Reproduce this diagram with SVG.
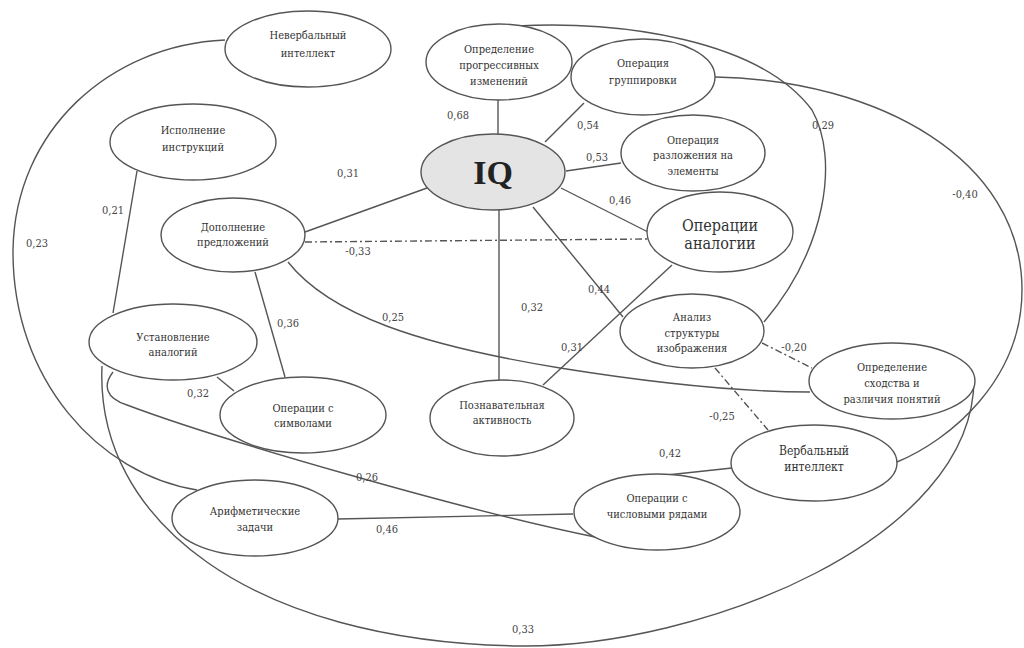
<svg xmlns="http://www.w3.org/2000/svg" width="1024" height="648" viewBox="0 0 1024 648">
<style>
.n ellipse{fill:#fff;stroke:#555;stroke-width:1.4}
text{font-family:"DejaVu Serif Condensed","DejaVu Serif","Liberation Serif",serif}
.n text{font-size:11px;fill:#333;text-anchor:middle}
.c path,.c line{fill:none;stroke:#555;stroke-width:1.4}
.c .d{stroke-dasharray:7,3,2,3}
.l text{font-size:11px;fill:#444;text-anchor:middle}
</style>
<rect width="1024" height="648" fill="#fff"/>
<g class="c" id="connectors">
<line x1="498" y1="100" x2="498" y2="135"/>
<line x1="545" y1="142" x2="584" y2="103"/>
<line x1="566" y1="171" x2="621" y2="163"/>
<line x1="561" y1="188" x2="648" y2="232"/>
<line x1="533" y1="207" x2="623" y2="317"/>
<line x1="499" y1="210" x2="499" y2="380"/>
<line x1="427" y1="188" x2="305" y2="232"/>
<line class="d" x1="305" y1="242" x2="647" y2="239"/>
<line x1="672" y1="265" x2="543" y2="385"/>
<line x1="255" y1="272" x2="285" y2="377"/>
<path d="M288,262 C330,315 420,345 560,368 C660,384 740,392 810,392"/>
<line class="d" x1="762" y1="343" x2="812" y2="368"/>
<line class="d" x1="715" y1="368" x2="768" y2="430"/>
<path d="M517,26 C620,20 760,40 812,110 C840,160 825,250 764,322"/>
<path d="M715,77 C880,80 1022,160 1022,290 C1022,380 950,440 897,462"/>
<line x1="732" y1="468" x2="667" y2="475"/>
<line x1="338" y1="519" x2="573" y2="514"/>
<path d="M113,372 C103,385 105,398 127,405 C220,440 470,512 595,537"/>
<path d="M102,366 C95,520 250,642 520,646 C700,648 975,540 974,378"/>
<path d="M225,40 C110,45 15,130 13,250 C12,380 100,475 197,490"/>
<line x1="137" y1="171" x2="113" y2="313"/>
<line x1="217" y1="377" x2="234" y2="391"/>
</g>
<g class="n" id="n-nonverbal"><ellipse cx="308" cy="49" rx="83" ry="38"/><text x="308" y="39">Невербальный</text><text x="308" y="57">интеллект</text></g>
<g class="n" id="n-instr"><ellipse cx="193" cy="142" rx="83" ry="38"/><text x="193" y="134">Исполнение</text><text x="193" y="151">инструкций</text></g>
<g class="n" id="n-progress"><ellipse cx="499" cy="62" rx="73" ry="38"/><text x="499" y="53">Определение</text><text x="499" y="69">прогрессивных</text><text x="499" y="85">изменений</text></g>
<g class="n" id="n-group"><ellipse cx="643" cy="77" rx="72" ry="38"/><text x="643" y="67">Операция</text><text x="643" y="84">группировки</text></g>
<g class="n" id="n-iq"><ellipse cx="493" cy="172" rx="72" ry="38" style="fill:#e4e4e4"/><text x="493" y="184" style="font-size:34px;font-weight:bold;fill:#222;font-family:'Liberation Serif',serif">IQ</text></g>
<g class="n" id="n-decomp"><ellipse cx="693" cy="153" rx="72" ry="38"/><text x="693" y="144">Операция</text><text x="693" y="159">разложения на</text><text x="693" y="175">элементы</text></g>
<g class="n" id="n-analog-op"><ellipse cx="720" cy="232" rx="73" ry="40"/><text x="720" y="231" style="font-size:16px">Операции</text><text x="720" y="249" style="font-size:16px">аналогии</text></g>
<g class="n" id="n-sentence"><ellipse cx="233" cy="235" rx="72" ry="37"/><text x="233" y="231">Дополнение</text><text x="233" y="246">предложений</text></g>
<g class="n" id="n-structure"><ellipse cx="692" cy="331" rx="72" ry="37"/><text x="692" y="321">Анализ</text><text x="692" y="337">структуры</text><text x="692" y="352">изображения</text></g>
<g class="n" id="n-analogies"><ellipse cx="173" cy="342" rx="84" ry="38"/><text x="173" y="341">Установление</text><text x="173" y="356">аналогий</text></g>
<g class="n" id="n-symbols"><ellipse cx="303" cy="415" rx="83" ry="38"/><text x="303" y="412">Операции с</text><text x="303" y="427">символами</text></g>
<g class="n" id="n-cognitive"><ellipse cx="502" cy="418" rx="72" ry="38"/><text x="502" y="409">Познавательная</text><text x="502" y="424">активность</text></g>
<g class="n" id="n-similarity"><ellipse cx="892" cy="381" rx="83" ry="38"/><text x="892" y="371">Определение</text><text x="892" y="387">сходства и</text><text x="892" y="403">различия понятий</text></g>
<g class="n" id="n-verbal"><ellipse cx="814" cy="463" rx="83" ry="38"/><text x="814" y="455" style="font-size:12px">Вербальный</text><text x="814" y="471" style="font-size:12px">интеллект</text></g>
<g class="n" id="n-series"><ellipse cx="657" cy="512" rx="83" ry="38"/><text x="657" y="502">Операции с</text><text x="657" y="518">числовыми рядами</text></g>
<g class="n" id="n-arith"><ellipse cx="255" cy="518" rx="83" ry="38"/><text x="255" y="515">Арифметические</text><text x="255" y="531">задачи</text></g>
<g class="l" id="labels">
<text x="458" y="119">0,68</text>
<text x="588" y="129">0,54</text>
<text x="597" y="161">0,53</text>
<text x="620" y="204">0,46</text>
<text x="348" y="177">0,31</text>
<text x="113" y="214">0,21</text>
<text x="37" y="247">0,23</text>
<text x="358" y="255">-0,33</text>
<text x="288" y="327">0,36</text>
<text x="393" y="321">0,25</text>
<text x="198" y="397">0,32</text>
<text x="599" y="293">0,44</text>
<text x="532" y="311">0,32</text>
<text x="572" y="351">0,31</text>
<text x="794" y="351">-0,20</text>
<text x="722" y="420">-0,25</text>
<text x="823" y="129">0,29</text>
<text x="965" y="198">-0,40</text>
<text x="670" y="457">0,42</text>
<text x="367" y="481">0,26</text>
<text x="387" y="533">0,46</text>
<text x="523" y="633">0,33</text>
</g>
</svg>
